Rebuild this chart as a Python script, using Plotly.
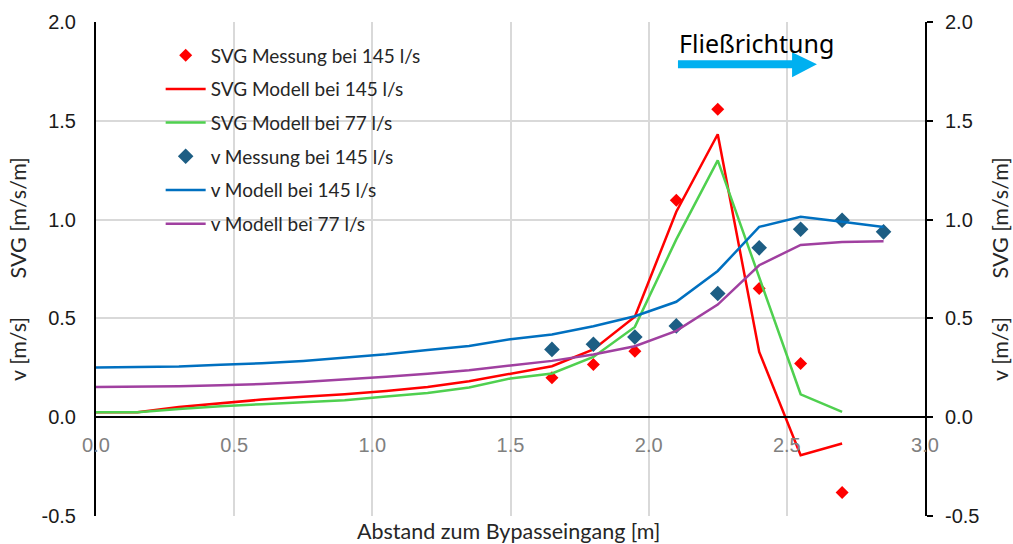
import plotly.graph_objects as go

# Distance from bypass entrance [m]
x_model_svg = [0.0, 0.15, 0.3, 0.45, 0.6, 0.75, 0.9, 1.05, 1.2, 1.35, 1.5,
               1.65, 1.8, 1.95, 2.1, 2.25, 2.4, 2.55, 2.7]
x_model_v = [0.0, 0.15, 0.3, 0.45, 0.6, 0.75, 0.9, 1.05, 1.2, 1.35, 1.5,
             1.65, 1.8, 1.95, 2.1, 2.25, 2.4, 2.55, 2.7, 2.85]
x_meas_svg = [1.65, 1.8, 1.95, 2.1, 2.25, 2.4, 2.55, 2.7]
x_meas_v = [1.65, 1.8, 1.95, 2.1, 2.25, 2.4, 2.55, 2.7, 2.85]

# Spatial velocity gradient [m/s/m]
svg_meas_145 = [0.20, 0.267, 0.334, 1.098, 1.559, 0.651, 0.272, -0.381]
svg_model_145 = [0.025, 0.025, 0.052, 0.072, 0.089, 0.103, 0.116, 0.133, 0.153, 0.182,
                 0.221, 0.258, 0.343, 0.508, 1.04, 1.432, 0.33, -0.192, -0.133]
svg_model_77 = [0.025, 0.025, 0.042, 0.056, 0.066, 0.076, 0.086, 0.105, 0.123, 0.15,
                0.196, 0.221, 0.305, 0.457, 0.90, 1.30, 0.71, 0.116, 0.027]

# Flow velocity [m/s]
v_meas_145 = [0.343, 0.369, 0.406, 0.462, 0.626, 0.857, 0.951, 0.997, 0.938]
v_model_145 = [0.251, 0.253, 0.256, 0.265, 0.273, 0.285, 0.300, 0.318, 0.34, 0.36,
               0.395, 0.419, 0.46, 0.511, 0.584, 0.74, 0.963, 1.014, 0.989, 0.963]
v_model_77 = [0.153, 0.153, 0.156, 0.162, 0.168, 0.178, 0.19, 0.205, 0.22, 0.238,
              0.262, 0.285, 0.317, 0.359, 0.437, 0.57, 0.769, 0.872, 0.887, 0.89]

y_ticks = [-0.5, 0.0, 0.5, 1.0, 1.5, 2.0]
y_tick_labels = ["-0.5", "0.0", "0.5", "1.0", "1.5", "2.0"]
x_ticks = [0.0, 0.5, 1.0, 1.5, 2.0, 2.5, 3.0]
x_tick_labels = ["0.0", "0.5", "1.0", "1.5", "2.0", "2.5", "3.0"]

RED = "#FF0000"
GREEN = "#4FD04F"
BLUE = "#0070C0"
PURPLE = "#A040A0"
TEAL = "#1D5E84"
GRID = "#D9D9D9"

LEG_FONT = "Lato, 'Open Sans', sans-serif"
TICK_FONT = "'Liberation Sans', Arial, sans-serif"

fig = go.Figure()

# SVG series on the left axis
fig.add_trace(go.Scatter(
    x=x_meas_svg, y=svg_meas_145, mode="markers", name="SVG Messung bei 145 l/s",
    marker=dict(symbol="diamond", size=10, color=RED), legendgroup="a"))
fig.add_trace(go.Scatter(
    x=x_model_svg, y=svg_model_145, mode="lines", name="SVG Modell bei 145 l/s",
    line=dict(color=RED, width=2.5), legendgroup="b"))
fig.add_trace(go.Scatter(
    x=x_model_svg, y=svg_model_77, mode="lines", name="SVG Modell bei 77 l/s",
    line=dict(color=GREEN, width=2.5), legendgroup="c"))

# velocity series on the right axis (same scale)
fig.add_trace(go.Scatter(
    x=x_meas_v, y=v_meas_145, mode="markers", name="v Messung bei 145 l/s",
    marker=dict(symbol="diamond", size=12, color=TEAL), legendgroup="d", yaxis="y2"))
fig.add_trace(go.Scatter(
    x=x_model_v, y=v_model_145, mode="lines", name="v Modell bei 145 l/s",
    line=dict(color=BLUE, width=2.5), legendgroup="e", yaxis="y2"))
fig.add_trace(go.Scatter(
    x=x_model_v, y=v_model_77, mode="lines", name="v Modell bei 77 l/s",
    line=dict(color=PURPLE, width=2.5), legendgroup="f", yaxis="y2"))

y_title = "v [m/s]\u00a0\u00a0\u00a0\u00a0\u00a0\u00a0\u00a0SVG [m/s/m]"

fig.update_layout(
    width=1013, height=544,
    margin=dict(l=96, r=88, t=22, b=28),
    paper_bgcolor="white", plot_bgcolor="white",
    showlegend=True,
    legend=dict(
        x=0.078, y=0.971, xanchor="left", yanchor="top",
        bgcolor="rgba(0,0,0,0)", borderwidth=0,
        font=dict(family=LEG_FONT, size=19, color="#262626"),
        tracegroupgap=6, itemwidth=40,
    ),
    xaxis=dict(
        range=[0, 3], tickvals=x_ticks, ticktext=x_tick_labels,
        anchor="free", position=0.2, automargin=False,
        showline=True, linecolor="black", linewidth=2,
        showgrid=True, gridcolor=GRID, gridwidth=2,
        zeroline=False, ticks="", ticklabelstandoff=10,
        tickfont=dict(family=TICK_FONT, size=20, color="#808080"),
    ),
    yaxis=dict(
        range=[-0.5, 2.0], tickvals=y_ticks, ticktext=y_tick_labels, automargin=False,
        showline=True, linecolor="black", linewidth=2,
        showgrid=True, gridcolor=GRID, gridwidth=2,
        zeroline=False, ticks="", ticklabelstandoff=14,
        tickfont=dict(family=TICK_FONT, size=20, color="#1a1a1a"),
        title=dict(text=y_title, font=dict(family=LEG_FONT, size=21.5, color="#262626"),
                   standoff=9),
    ),
    yaxis2=dict(
        range=[-0.5, 2.0], tickvals=y_ticks, ticktext=y_tick_labels, automargin=False,
        overlaying="y", side="right", anchor="x",
        showline=True, linecolor="black", linewidth=2,
        showgrid=False, zeroline=False,
        ticks="outside", ticklen=6, tickwidth=2, tickcolor="black",
        ticklabelstandoff=8,
        tickfont=dict(family=TICK_FONT, size=20, color="#1a1a1a"),
        title=dict(text=y_title, font=dict(family=LEG_FONT, size=21.5, color="#262626"),
                   standoff=14),
    ),
)

# White panel behind the legend (hides the gridlines there)
fig.add_shape(type="rect", xref="paper", yref="paper",
              x0=0.0145, x1=0.459, y0=0.55, y1=0.974,
              fillcolor="white", line=dict(width=0), layer="between")

# Flow direction arrow
fig.add_shape(
    type="path", xref="x", yref="y",
    path="M 2.106 1.807 L 2.519 1.807 L 2.519 1.847 L 2.609 1.786 "
         "L 2.519 1.721 L 2.519 1.766 L 2.106 1.766 Z",
    fillcolor="#00B0F0", line=dict(width=0), layer="above")
fig.add_annotation(
    x=2.392, y=1.895, xref="x", yref="y", text="Flie\u00dfrichtung", showarrow=False,
    xanchor="center", yanchor="middle",
    font=dict(family="'Noto Sans', 'Open Sans', sans-serif", size=25, color="black"))

# x-axis title below the plot area
fig.add_annotation(
    x=0.497, y=-0.03, xref="paper", yref="paper", text="Abstand zum Bypasseingang [m]",
    showarrow=False, xanchor="center", yanchor="middle",
    font=dict(family=LEG_FONT, size=21.5, color="#262626"))

fig.write_html("out.html")
